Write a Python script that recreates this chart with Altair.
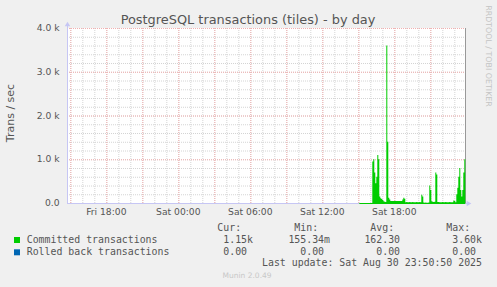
import altair as alt
import pandas as pd
import numpy as np

# ---------------- data ----------------
# time axis in hours counted from Fri 00:00; samples every 5 minutes from Sat 15:05
start_hour = 39 + 5 / 60
step_hours = 5 / 60
committed = [
    0.3, 0.2, 0.4, 0.3, 0.2, 0.3, 0.5, 0.3, 0.2, 0.4, 0.3, 0.2, 0.3,
    950, 1000, 700, 450, 600, 1100, 1000, 150, 110, 90, 70, 40, 30, 25,
    3600, 1400, 120, 80,
    45, 48, 44, 46, 45, 43, 47, 45, 44, 46, 45, 48,
    80, 120, 100,
    20, 22, 18, 20, 21, 19, 20, 22, 20, 18, 20, 21, 19, 20, 22, 20,
    190, 150,
    10, 8, 9, 7, 8, 10,
    400, 300,
    40, 30, 25, 30,
    700, 650,
    25, 22, 20, 18, 20, 22, 20, 19, 21, 20, 18, 20, 22, 20, 19, 20,
    60, 45, 20,
    200, 350, 600, 800, 300, 150, 300, 700, 1000, 1150,
]
x_domain = [14.725, 47.975]
y_domain = [0, 4000]

x_tick_hours = [18, 24, 30, 36, 42]
x_tick_labels = ["Fri 18:00", "Sat 00:00", "Sat 06:00", "Sat 12:00", "Sat 18:00"]
y_tick_values = [0, 1000, 2000, 3000, 4000]
y_tick_labels = ["0.0", "1.0 k", "2.0 k", "3.0 k", "4.0 k"]
x_minor_hours = list(range(15, 48))
x_major_hours = list(range(15, 48, 3))
y_minor_values = list(range(200, 4001, 200))
y_major_values = [1000, 2000, 3000, 4000]

title_text = "PostgreSQL transactions (tiles) - by day"
y_title = "Trans / sec"
side_text = "RRDTOOL / TOBI OETIKER"
series_names = ["Committed transactions", "Rolled back transactions"]
series_colors = ["#00CC00", "#0066B3"]
headers = ["Cur:", "Min:", "Avg:", "Max:"]
cur_vals = ["1.15k", "0.00"]
min_vals = ["155.34m", "0.00"]
avg_vals = ["162.30", "0.00"]
max_vals = ["3.60k", "0.00"]
last_update = "Last update: Sat Aug 30 23:50:50 2025"
munin_version = "Munin 2.0.49"

# ---------------- layout ----------------
L, T, W, H = 67, 28, 399, 175
TEXT = "#555555"
AXIS = "#C6C6F4"
MONO = "DejaVu Sans Mono"
SANS = "DejaVu Sans"
CW = 5.95  # monospace char width

df = pd.DataFrame({
    "h": start_hour + step_hours * np.arange(len(committed)),
    "v": committed,
})

xs = alt.Scale(domain=x_domain, nice=False, zero=False)
ys = alt.Scale(domain=y_domain, nice=False, zero=False)


def X(field="h:Q"):
    return alt.X(field, scale=xs, axis=None)


def Y(field="v:Q"):
    return alt.Y(field, scale=ys, axis=None)


def txt(s, ax, ay, size, color=TEXT, font=SANS, align="left", angle=0, baseline="middle"):
    return alt.Chart(pd.DataFrame({"t": [s]})).mark_text(
        align=align, baseline=baseline, font=font, fontSize=size, color=color, angle=angle
    ).encode(text="t:N", x=alt.value(ax - L), y=alt.value(ay - T))


layers = []
# grids
layers.append(alt.Chart(pd.DataFrame({"h": x_minor_hours})).mark_rule(
    color="#D4D4D4", strokeDash=[1, 1], strokeWidth=1, xOffset=0.5).encode(x=X()))
layers.append(alt.Chart(pd.DataFrame({"v": y_minor_values})).mark_rule(
    color="#D4D4D4", strokeDash=[1, 1], strokeWidth=1, yOffset=0.5).encode(y=Y()))
layers.append(alt.Chart(pd.DataFrame({"h": x_major_hours})).mark_rule(
    color="#F1B0B0", strokeDash=[1, 1], strokeWidth=1, xOffset=0.5).encode(x=X()))
layers.append(alt.Chart(pd.DataFrame({"v": y_major_values})).mark_rule(
    color="#F1B0B0", strokeDash=[1, 1], strokeWidth=1, yOffset=0.5).encode(y=Y()))

# axis lines
layers.append(alt.Chart(pd.DataFrame({"a": [0]})).mark_rule(color=AXIS, xOffset=0.5).encode(
    x=alt.value(0), y=alt.value(-3), y2=alt.value(H)))
layers.append(alt.Chart(pd.DataFrame({"a": [0]})).mark_rule(color=AXIS, yOffset=0.5).encode(
    x=alt.value(0), x2=alt.value(W + 3), y=alt.value(H)))
layers.append(alt.Chart(pd.DataFrame({"a": [0]})).mark_rule(color="#999999", xOffset=-0.5).encode(
    x=alt.value(W), y=alt.value(0), y2=alt.value(H)))
layers.append(alt.Chart(pd.DataFrame({"a": [0]})).mark_point(
    shape="triangle-up", filled=True, color=AXIS, size=30, opacity=1).encode(
    x=alt.value(0.5), y=alt.value(-4)))
layers.append(alt.Chart(pd.DataFrame({"a": [0]})).mark_point(
    shape="triangle-right", filled=True, color=AXIS, size=30, opacity=1).encode(
    x=alt.value(W + 3), y=alt.value(H + 0.5)))

# data
layers.append(alt.Chart(df).mark_area(color=series_colors[0], interpolate="step-after").encode(
    x=X(), y=Y()))
layers.append(alt.Chart(df).mark_rule(color=series_colors[0], yOffset=0.5).encode(
    x=X("min(h):Q"), x2="max(h):Q", y=alt.value(H)))

# tick labels
layers.append(alt.Chart(pd.DataFrame({"h": x_tick_hours, "lab": x_tick_labels})).mark_text(
    font=SANS, fontSize=9.2, color=TEXT, align="center", baseline="middle").encode(
    x=X(), y=alt.value(212 - T), text="lab:N"))
layers.append(alt.Chart(pd.DataFrame({"v": y_tick_values, "lab": y_tick_labels})).mark_text(
    font=SANS, fontSize=9.2, color=TEXT, align="right", baseline="middle").encode(
    y=Y(), x=alt.value(59.5 - L), text="lab:N"))

# titles
layers.append(txt(title_text, 248, 24, 12.9, align="center", baseline="alphabetic"))
layers.append(txt(y_title, 11, 113, 11, align="center", angle=270))
layers.append(txt(side_text, 488, 56, 7.9, color="#C4C4C4", align="center", angle=90))

# legend
col_ends = [253, 330, 406, 482]
row_y = [239.5, 251.8]
for i, hname in enumerate(headers):
    layers.append(txt(hname, col_ends[i] - 2 * CW, 227.5, 9.9, font=MONO, align="right"))
for r, name in enumerate(series_names):
    layers.append(alt.Chart(pd.DataFrame({"a": [0]})).mark_square(
        color=series_colors[r], size=36, opacity=1).encode(
        x=alt.value(17 - L), y=alt.value(row_y[r] + 0.5 - T)))
    layers.append(txt(name, 26.7, row_y[r], 9.9, font=MONO))
    for c, vals in enumerate([cur_vals, min_vals, avg_vals, max_vals]):
        s = vals[r]
        end = col_ends[c] - (0 if s[-1].isalpha() else CW)
        layers.append(txt(s, end, row_y[r], 9.9, font=MONO, align="right"))
layers.append(txt(last_update, 482, 262.8, 9.9, font=MONO, align="right"))
layers.append(txt(munin_version, 222.5, 276, 7.5, color="#C8C8C8"))

chart = alt.layer(*layers).properties(
    width=W, height=H,
    autosize=alt.AutoSizeParams(type="none"),
    padding={"left": L, "top": T, "right": 497 - L - W, "bottom": 287 - T - H},
    background="#F0F0F0",
).configure_view(fill="white", strokeWidth=0)

chart.save("out.html", embed_options={"renderer": "svg", "actions": False})
